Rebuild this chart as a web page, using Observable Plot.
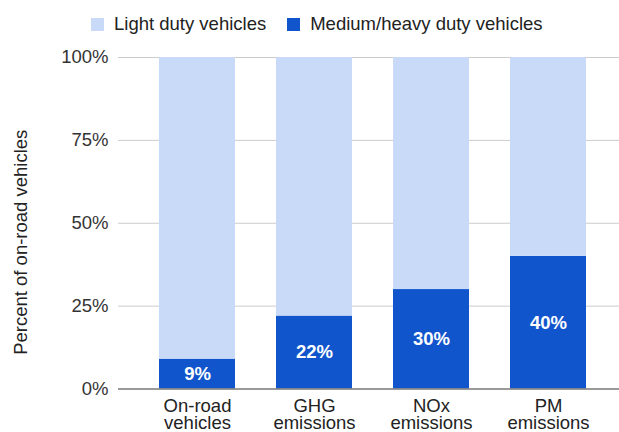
<!DOCTYPE html>
<html><head><meta charset="utf-8">
<script src="https://cdn.jsdelivr.net/npm/d3@7"></script>
<script src="https://cdn.jsdelivr.net/npm/@observablehq/plot@0.6"></script>
<style>
body{margin:0;background:#fff;font-family:"Liberation Sans",Arial,sans-serif;}
#legend{height:40px;display:flex;align-items:center;padding-left:91px;padding-top:8px;box-sizing:border-box;font-size:18.5px;color:#222;}
.sw{width:13px;height:13px;display:inline-block;margin-right:10px;flex:none;}
.item{display:flex;align-items:center;margin-right:21px;white-space:nowrap;}
#chart svg{display:block;}
</style></head><body>
<div id="legend"></div>
<div id="chart"></div>
<script>
const categories = ["On-road\nvehicles", "GHG\nemissions", "NOx\nemissions", "PM\nemissions"];
const heavyValues = [9, 22, 30, 40];
const lightValues = [91, 78, 70, 60];
const heavyName = "Medium/heavy duty vehicles";
const lightName = "Light duty vehicles";
const heavyColor = "#1155cc";
const lightColor = "#c9daf8";
const yTicks = [0, 25, 50, 75, 100];
const yLabel = "Percent of on-road vehicles";

// legend
const legend = document.getElementById("legend");
[[lightName, lightColor], [heavyName, heavyColor]].forEach(([name, color]) => {
  const it = document.createElement("div");
  it.className = "item";
  const sw = document.createElement("span");
  sw.className = "sw";
  sw.style.background = color;
  const tx = document.createElement("span");
  tx.textContent = name;
  it.appendChild(sw); it.appendChild(tx);
  legend.appendChild(it);
});

const rows = [];
categories.forEach((c, i) => rows.push({cat: c, type: heavyName, value: heavyValues[i]}));
categories.forEach((c, i) => rows.push({cat: c, type: lightName, value: lightValues[i]}));
const heavyRows = categories.map((c, i) => ({cat: c, value: heavyValues[i]}));

const chart = Plot.plot({
  width: 619,
  height: 392,
  marginTop: 17,
  marginBottom: 43.5,
  marginLeft: 118,
  marginRight: 0,
  style: {fontFamily: '"Liberation Sans", Arial, sans-serif', fontSize: "18.5px", color: "#222", background: "#fff"},
  x: {type: "band", domain: categories, range: [138.5, 606.5], paddingInner: 0.35, paddingOuter: 0.175, label: null},
  y: {domain: [0, 100], label: null},
  color: {domain: [heavyName, lightName], range: [heavyColor, lightColor]},
  marks: [
    Plot.ruleY(yTicks.filter(d => d > 0), {stroke: "#cccccc", strokeWidth: 1}),
    Plot.barY(rows, {x: "cat", y: "value", fill: "type", order: [heavyName, lightName]}),
    Plot.ruleY([0], {stroke: "#777", strokeWidth: 1.5}),
    Plot.text(heavyRows, {x: "cat", y: d => d.value / 2, text: d => d.value + "%", fill: "white", fontWeight: "bold", fontSize: 18.5}),
    Plot.axisY({ticks: yTicks, tickFormat: d => d + "%", tickSize: 0, tickPadding: 10, fill: "#333", label: null}),
    Plot.axisX({tickSize: 0, tickPadding: 11.5, fill: "#222", label: null, lineHeight: 0.9}),
    Plot.text([yLabel], {text: d => d, frameAnchor: "left", rotate: -90, dx: -97, dy: 19, fill: "#222", textAnchor: "middle", lineAnchor: "middle"})
  ]
});
document.getElementById("chart").appendChild(chart);
</script>
</body></html>
